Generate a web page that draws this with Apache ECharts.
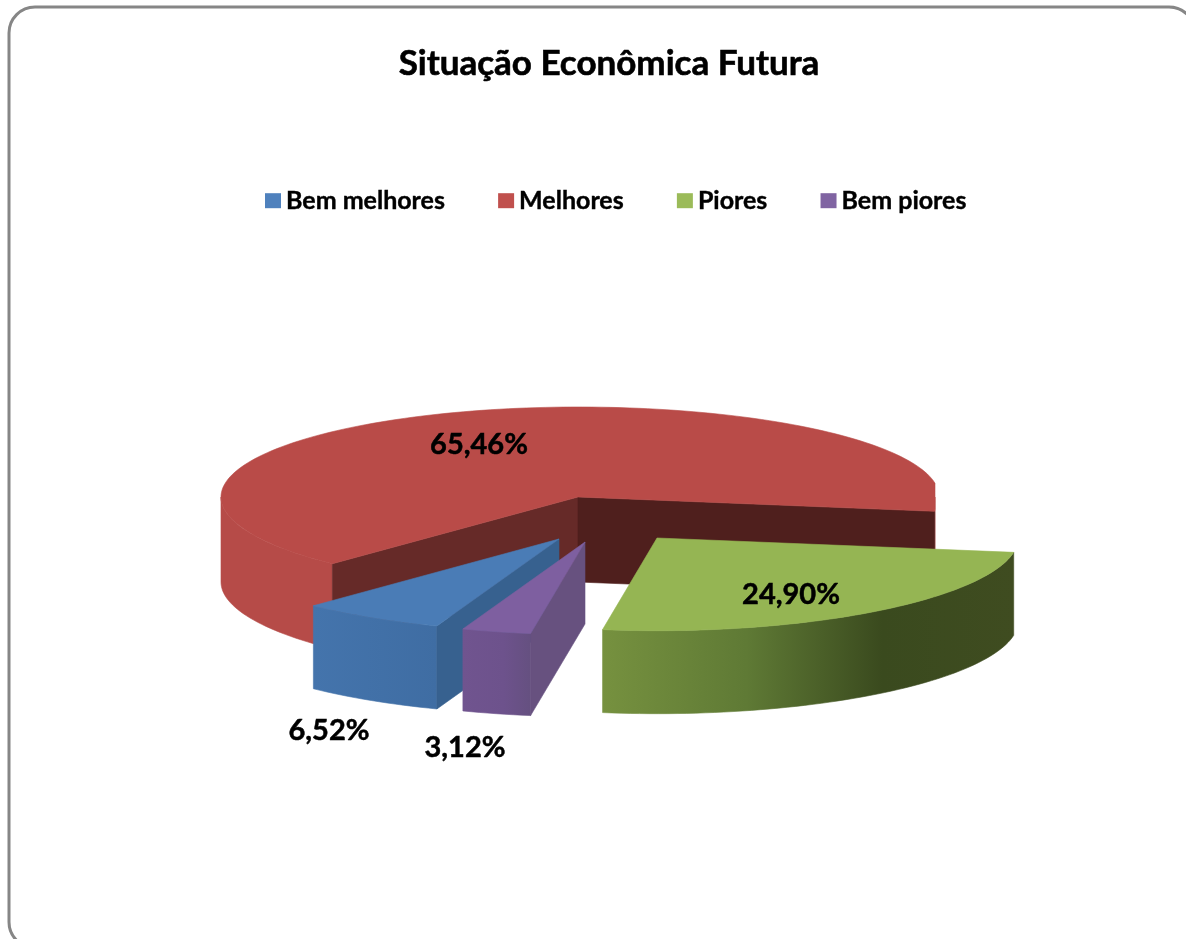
<!DOCTYPE html>
<html><head><meta charset="utf-8">
<style>html,body{margin:0;padding:0;background:#fff}#c{width:1186px;height:939px}</style>
<script src="https://cdn.jsdelivr.net/npm/echarts@6/dist/echarts.min.js"></script>
</head><body><div id="c"></div>
<script>
const titleText = 'Situação Econômica Futura';
const categories = ['Bem melhores', 'Melhores', 'Piores', 'Bem piores'];
const values = [6.52, 65.46, 24.90, 3.12];
const valueLabels = ['6,52%', '65,46%', '24,90%', '3,12%'];
const colors = ['#4F81BD', '#C0504D', '#9BBB59', '#8064A2'];

// Layout and style only
const FONT = 'Lato, "Open Sans", sans-serif';
const CX = 578, CY = 497, RX = 357, RY = 90;
const FIRST_ANGLE = 200;
const depths = [83, 85, 83, 82];
const explode = [[-19, 42], [0, 0], [79, 41], [7, 45]];
const labelAt = [[329, 731], [479, 445], [791, 595], [465, 748]];
const topFill = ['#4A7CB6', '#B94B48', '#95B553', '#7E5FA0'];
const cutFill = ['#37618F', ['#662A28', '#4F1F1D'], '#3F4F22', '#67517F'];
const wallStops = [
  [[0, '#4474AC'], [1, '#3F6DA3']],
  [[0, '#B64B48'], [1, '#B64B48']],
  [[0, '#76913F'], [0.35, '#5F7A35'], [0.68, '#3A4A1E'], [1, '#3F4C20']],
  [[0, '#70548F'], [0.6, '#6D528C'], [1, '#655080']]
];
const drawOrder = [1, 2, 0, 3];

const total = values.reduce((a, b) => a + b, 0);
const starts = [];
values.reduce((acc, v, i) => { starts[i] = acc; return acc + v / total * 360; }, FIRST_ANGLE);

// Rim point with the slight foreshortening of the 3-D view
function rim(deg, ox, oy) {
  const t = deg * Math.PI / 180;
  const s = Math.sin(t), c = Math.cos(t);
  const near = Math.max(0, -c);
  let dx = RX * s * (s > 0 ? 1.012 : 1);
  if (dx > RX) dx = RX;
  return [CX + ox + dx, CY + oy - RY * c * (1 + 0.03 * near)];
}
function arcPoints(a, b, ox, oy) {
  const n = Math.max(2, Math.ceil(Math.abs(b - a) / 1.5));
  const pts = [];
  for (let i = 0; i <= n; i++) pts.push(rim(a + (b - a) * i / n, ox, oy));
  return pts;
}
function poly(points, fill, z2) {
  return { type: 'polygon', shape: { points }, style: { fill, stroke: fill, lineWidth: 0.6 }, z2 };
}
function renderSlice(i) {
  return function (params, api) {
    const sweep = api.value(0) / total * 360;
    const a = starts[i], b = a + sweep;
    const [ox, oy] = explode[i];
    const apex = [CX + ox, CY + oy];
    const down = p => [p[0], p[1] + depths[i]];
    const children = [];
    // outer wall: the parts of the rim on the viewer's side
    [[90, 270], [450, 630]].forEach(([lo, hi]) => {
      const s = Math.max(a, lo), e = Math.min(b, hi);
      if (e <= s) return;
      const top = arcPoints(s, e, ox, oy);
      const pts = top.concat(top.map(down).reverse());
      const fill = new echarts.graphic.LinearGradient(0, 0, 1, 0,
        wallStops[i].map(([offset, color]) => ({ offset, color })));
      children.push(poly(pts, fill, 1));
    });
    // radial cut faces facing the viewer
    const side = d => Math.sin(d * Math.PI / 180);
    const cutColor = k => Array.isArray(cutFill[i]) ? cutFill[i][k] : cutFill[i];
    if (side(a) < 0) {
      const r = rim(a, ox, oy);
      children.push(poly([apex, r, down(r), down(apex)], cutColor(0), 2));
    }
    if (side(b) > 0) {
      const r = rim(b, ox, oy);
      children.push(poly([apex, r, down(r), down(apex)], cutColor(1), 2));
    }
    // top surface
    children.push(poly([apex].concat(arcPoints(a, b, ox, oy)), topFill[i], 3));
    // value label
    children.push({
      type: 'text', z2: 5,
      style: {
        x: labelAt[i][0], y: labelAt[i][1], text: valueLabels[i],
        fill: '#000', font: 'bold 29px ' + FONT,
        stroke: '#000', lineWidth: 0.5,
        align: 'center', verticalAlign: 'middle'
      }
    });
    return { type: 'group', children };
  };
}

const chart = echarts.init(document.getElementById('c'), null, { renderer: 'canvas' });
chart.setOption({
  backgroundColor: '#fff',
  animation: false,
  title: {
    text: titleText, left: 604, top: 41, textAlign: 'center',
    textStyle: { fontFamily: FONT, fontWeight: 'bold', fontSize: 35, color: '#000', textBorderColor: '#000', textBorderWidth: 0.6 }
  },
  legend: {
    data: categories, left: 265, top: 188, icon: 'rect', padding: 0,
    itemWidth: 16, itemHeight: 15, itemGap: 53,
    textStyle: { fontFamily: FONT, fontWeight: 'bold', fontSize: 25, color: '#000', textBorderColor: '#000', textBorderWidth: 0.4 }
  },
  graphic: [{
    type: 'rect', z: -1, silent: true,
    shape: { x: 9, y: 7, width: 1186, height: 941, r: 26 },
    style: { fill: '#fff', stroke: '#868686', lineWidth: 3 }
  }],
  series: drawOrder.map((i, order) => ({
    type: 'custom', name: categories[i], coordinateSystem: 'none', z: 2 + order,
    itemStyle: { color: colors[i] }, silent: true, clip: false,
    renderItem: renderSlice(i),
    encode: { value: 0 },
    data: [[values[i]]]
  }))
});
</script></body></html>
